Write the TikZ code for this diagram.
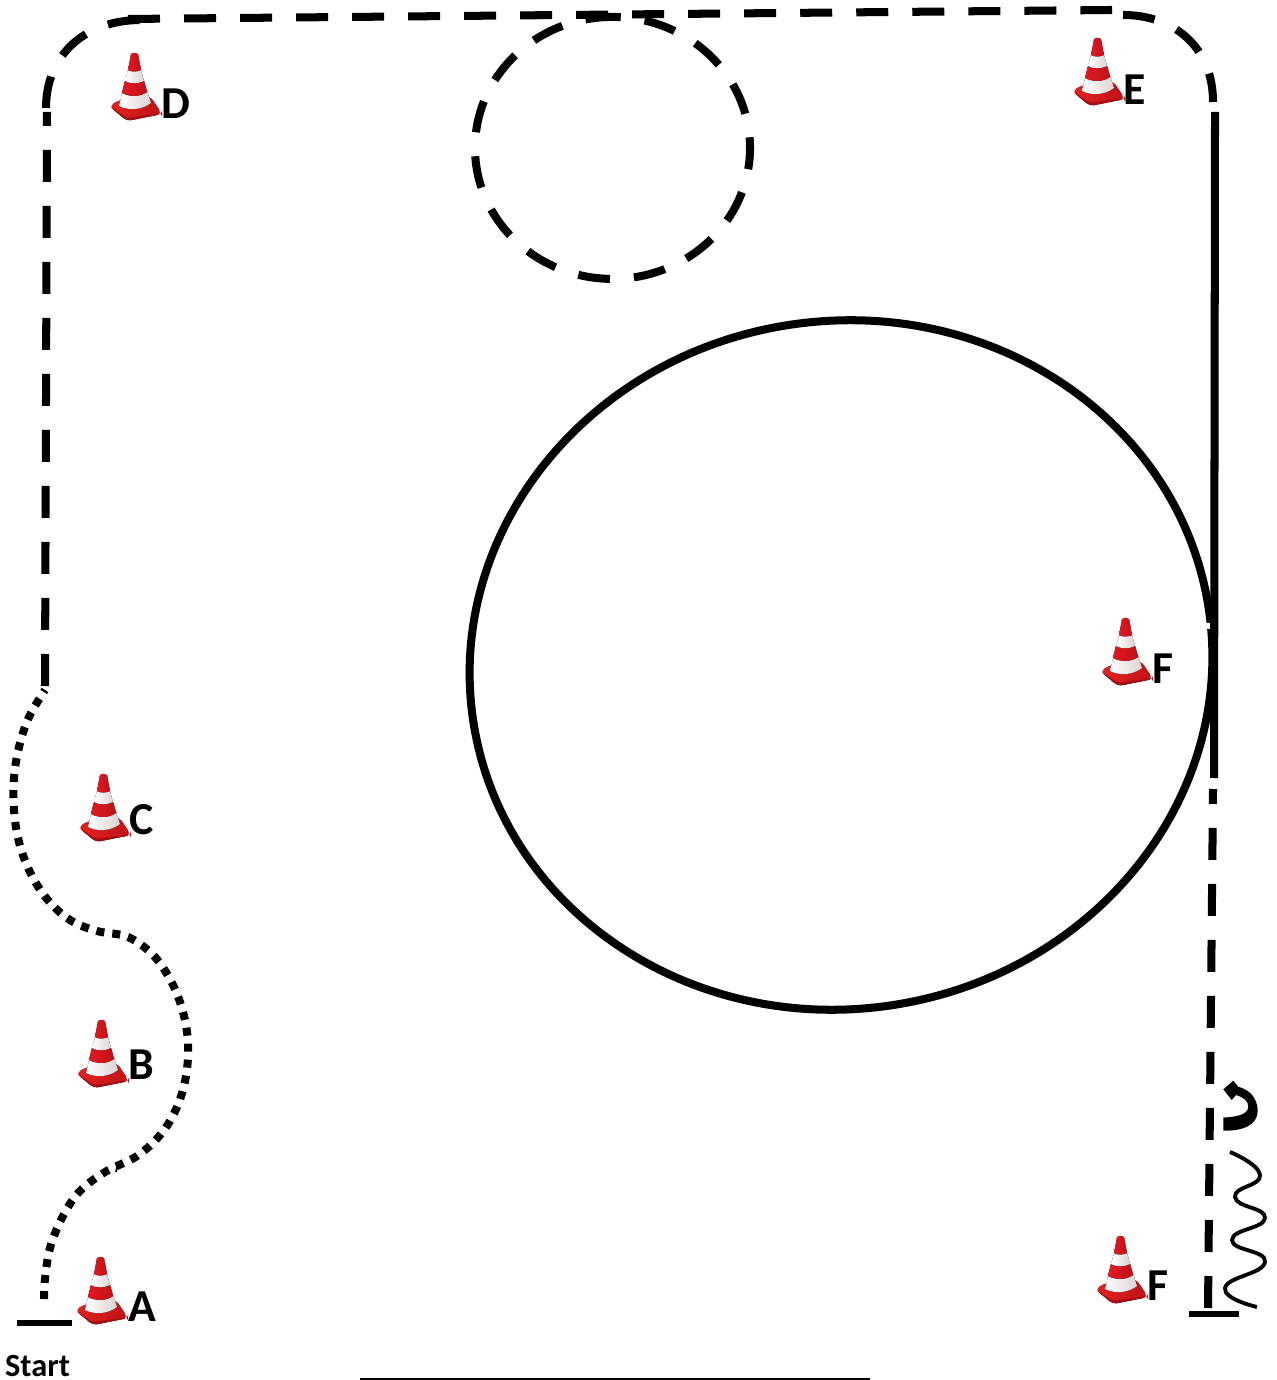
\documentclass[tikz,border=0pt]{standalone}
\usepackage{fontspec}
\setmainfont{Carlito}

\definecolor{conered}{RGB}{226,24,34}
\definecolor{conedark}{RGB}{190,18,24}
\definecolor{conewhite}{RGB}{222,210,210}

\tikzset{
    route/.style={line width=2.28pt},
    dashroute/.style={route, dash pattern=on 9.1pt off 6.83pt},
    dotroute/.style={route, dash pattern=on 2.28pt off 2.28pt},
    startbar/.style={line width=1.7pt},
    conelabel/.style={font=\bfseries\fontsize{13}{13}\selectfont, text=black, inner sep=0pt},
    cone/.pic={
        % base plate
        \fill[left color=conered!90!orange, right color=conedark, rounded corners=1.5pt]
            (-14,47) -- (16,43) -- (28,61) -- (-7,68) -- (-25,53) -- cycle;
        \fill[conedark!85!black, rounded corners=1pt] (-25,53) -- (-7,65) -- (28,60) -- (28,61) -- (-7,68) -- cycle;
        % body, from bottom to top
        \fill[left color=white, right color=conewhite] (-15,53) .. controls (-5,58) and (8,57) .. (17,50) -- (10,28) -- (-9,28) -- cycle;
        \fill[left color=conered, right color=conedark] (-12,40) .. controls (-4,44) and (6,44) .. (13,39) -- (10,28) .. controls (4,31) and (-4,31) .. (-9,28) -- cycle;
        \fill[left color=white, right color=conewhite] (-9,28) -- (-6,17) -- (7,17) -- (10,28) .. controls (4,31) and (-4,31) .. (-9,28) -- cycle;
        \fill[left color=conered, right color=conedark] (-6,17) -- (-3,1) .. controls (-1,-0.5) and (2,-0.5) .. (4,1) -- (7,17) .. controls (3,19) and (-3,19) .. (-6,17) -- cycle;
    }
}

\begin{document}
\begin{tikzpicture}[x=0.01cm, y=-0.01cm]
    \useasboundingbox (0,0) rectangle (1277,1380);

    % -----------------------------------------------------
    % 1) Conos con su letra
    % -----------------------------------------------------
    \foreach \name/\conex/\coney/\labelx/\labely/\letter in {
        a/100/1257/142/1307/A, b/101/1020/141/1065/B, c/103/774/142/820/C,
        d/134/53/176/104/D, e/1097/38/1135/90/E, f/1125/618/1163/669/F,
        g/1120/1236/1158/1286/F} {
        \pic at (\conex,\coney) {cone};
        \node[conelabel] (label\name) at (\labelx,\labely) {\letter};
    }

    % -----------------------------------------------------
    % 2) Salida
    % -----------------------------------------------------
    \draw[startbar] (17,1323) -- (72,1323);
    \node[font=\bfseries\fontsize{9.2}{9.2}\selectfont, inner sep=0pt] (start) at (37.5,1366) {Start};

    % -----------------------------------------------------
    % 3) Tramo punteado
    % -----------------------------------------------------
    \draw[dotroute] plot[smooth, tension=0.6] coordinates {(44,1299) (45,1279) (50,1248) (62,1218)
        (79,1192) (105,1172) (137,1156) (161,1134) (177,1107) (186,1076) (188,1043) (183,1012)
        (172,983) (154,956) (128,937) (97,931) (70,920) (47,899) (30,872) (19,842) (14,810)
        (14,778) (19,747) (29,717) (45,690)};
    \draw[line width=0.5pt] (116,1172) -- (118,1163);

    % -----------------------------------------------------
    % 4) Tramo discontinuo por arriba
    % -----------------------------------------------------
    \draw[dashroute] (45,686) -- (47,112);
    \draw[dashroute] (46,108) .. controls (46,55) and (85,20) .. (141,20);
    \draw[dashroute] (128,19) -- (1112,10);
    \draw[dashroute] (1123,15) .. controls (1175,15) and (1213,48) .. (1213,102);

    % -----------------------------------------------------
    % 5) Circulos
    % -----------------------------------------------------
    \draw[dashroute] (617.3,17) arc[start angle=-88, end angle=-448, x radius=137.5, y radius=131];
    \draw[route] (841,665) circle[x radius=372, y radius=344, rotate=9];

    % -----------------------------------------------------
    % 6) Recta final
    % -----------------------------------------------------
    \draw[route] (1215,112) -- (1214,778);
    \draw[dashroute] (1208,1308) -- (1213,789);
    \draw[startbar] (1189,1314) -- (1239,1314);
    \draw[white, line width=1.7pt] (1205,626) -- (1210,626);

    % Giro y ondas
    \fill (1223.3,1130.7) .. controls (1245,1131) and (1258,1124) .. (1257.7,1110)
        .. controls (1257,1098) and (1250,1090) .. (1238.3,1086.7) -- (1233.3,1080.7) -- (1223.3,1089.3)
        -- (1231.7,1100) -- (1236,1095) .. controls (1243,1097) and (1248.5,1101) .. (1248.3,1106.7)
        .. controls (1248,1114) and (1238,1117) .. (1223.3,1117.5) -- cycle;
    \draw[line width=1.1pt] plot[smooth, tension=0.9] coordinates {(1230,1152) (1260,1175) (1235,1197)
        (1265,1218) (1232,1240) (1265,1262) (1225,1288) (1257,1307)};

    % -----------------------------------------------------
    % 7) Linea inferior
    % -----------------------------------------------------
    \draw[line width=0.45pt] (360,1379) -- (870,1379);

\end{tikzpicture}
\end{document}
